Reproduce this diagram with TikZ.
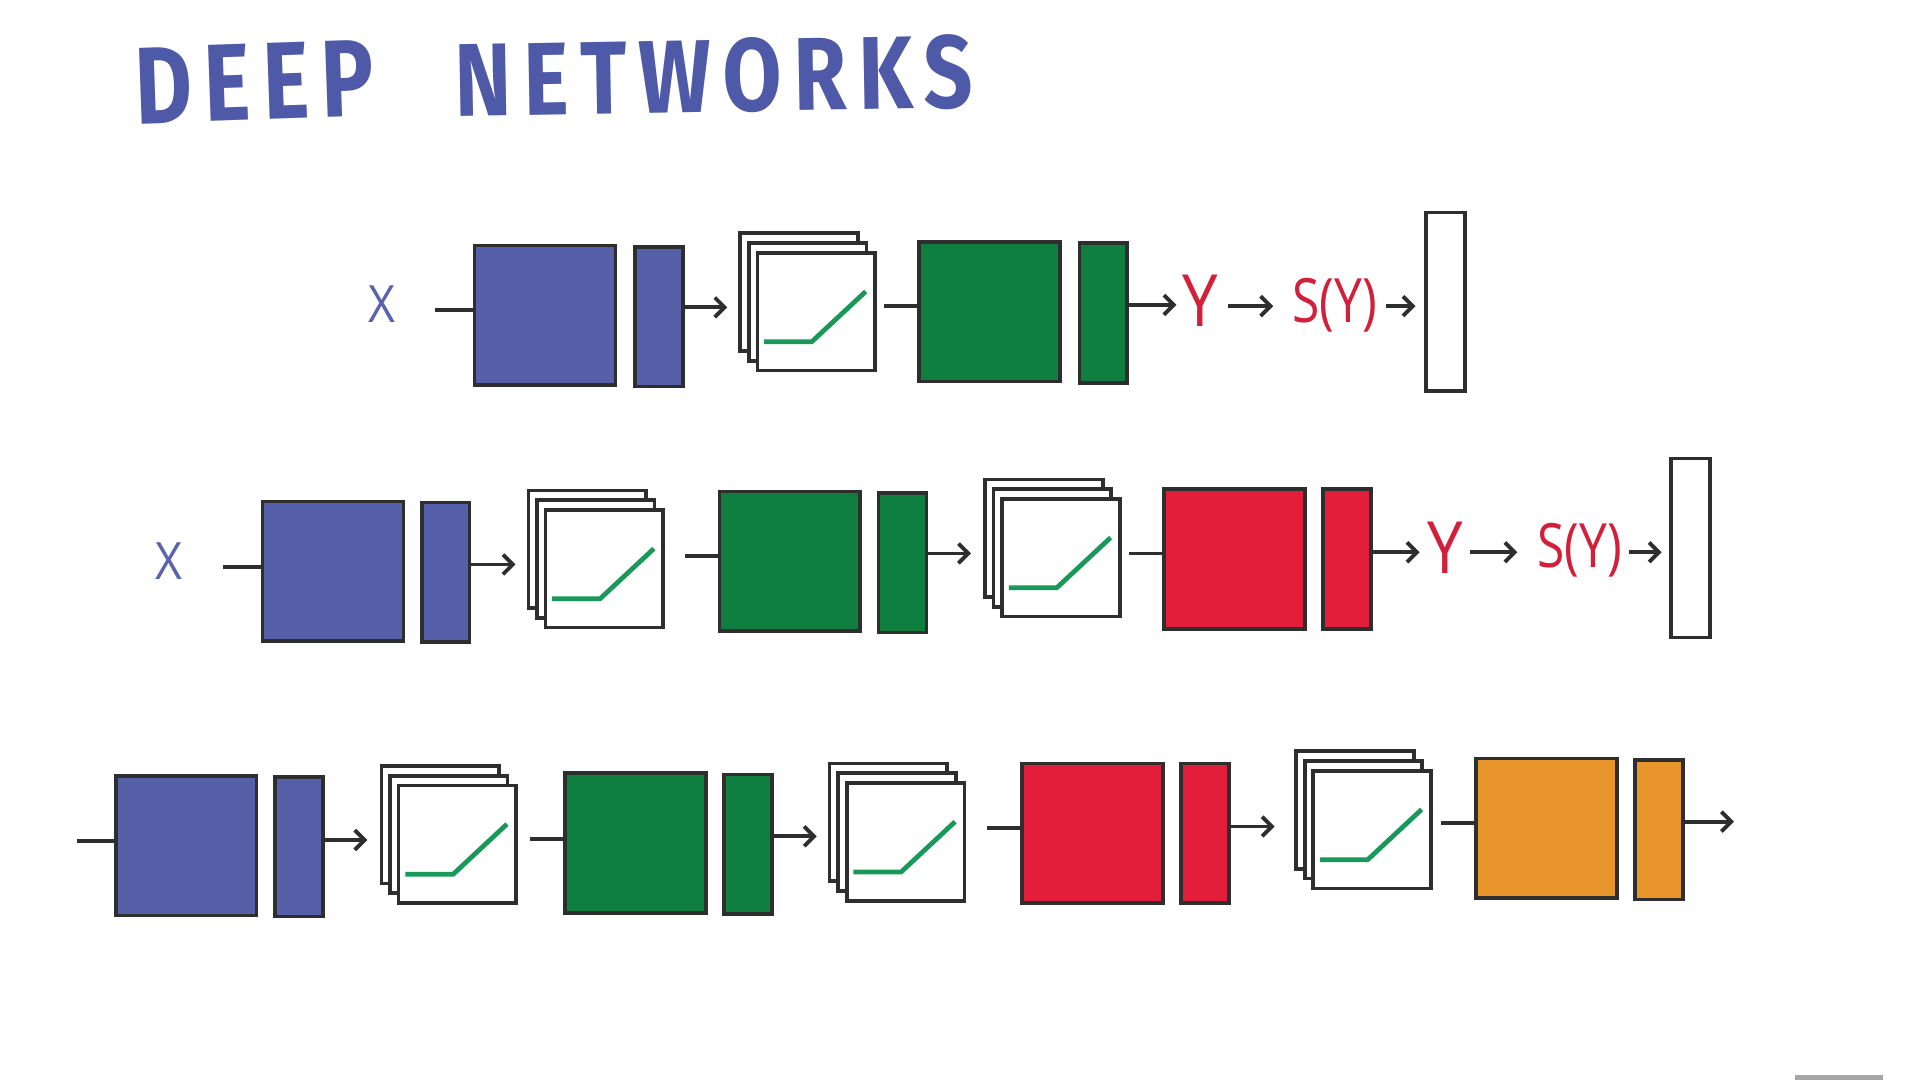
\documentclass[tikz,border=0pt]{standalone}
\usepackage{fontspec}
\usepackage{graphicx}
\usetikzlibrary{arrows.meta,calc}
\newfontfamily\handfont[LetterSpace=14]{Fira Sans}
\newfontfamily\thinfont{Open Sans}
\definecolor{bluef}{HTML}{5660A9}
\definecolor{greenf}{HTML}{0F7F3F}
\definecolor{redf}{HTML}{E31E3A}
\definecolor{orangef}{HTML}{E8952B}
\definecolor{edge}{HTML}{2E2E2E}
\definecolor{titleblue}{HTML}{4E5AA8}
\definecolor{redtxt}{HTML}{D41F3A}
\definecolor{xblue}{HTML}{5A63AE}
\definecolor{reluc}{HTML}{18995A}
\tikzset{
  blk/.style={draw=edge, line width=0.85pt, inner sep=0pt, anchor=north west},
  sq/.style={blk, minimum width=1.15cm, minimum height=1.14cm},
  bar/.style={blk, minimum width=0.39cm, minimum height=1.14cm},
  card/.style={blk, fill=white, minimum width=0.96cm, minimum height=0.96cm},
  outbox/.style={blk, fill=white, minimum width=0.32cm, minimum height=1.46cm},
  conn/.style={draw=edge, line width=0.9pt},
  arr/.style={conn, -{Straight Barb[length=0.08cm,width=0.16cm]}},
  relu/.style={draw=reluc, line width=1.1pt},
  lbl/.style={inner sep=0pt},
  xlbl/.style={lbl, text=xblue},
  ylbl/.style={lbl, text=redtxt}
}
\newcommand{\cardstack}[3]{%
  \node[card] (#1a) at (#2-14,#3-16) {};
  \node[card] (#1b) at (#2-7,#3-8) {};
  \node[card] (#1) at (#2,#3) {};
  \draw[relu] ($(#1.south west)+(7,-25)$) -- ++(39,0) -- ++(44,-41);
}
\newcommand{\xlab}{\resizebox{0.22cm}{0.3cm}{\thinfont X}}
\newcommand{\ylab}{\resizebox{0.29cm}{0.42cm}{\thinfont Y}}
\newcommand{\sylab}{\resizebox*{0.69cm}{0.44cm}{\thinfont S(Y)}}
\begin{document}
\begin{tikzpicture}[x=0.01cm, y=-0.01cm]
\useasboundingbox[fill=white] (0,0) rectangle (1568,882);

% title
\node[lbl, text=titleblue, rotate=2] (t1) at (208,67) {\resizebox{1.95cm}{0.62cm}{\handfont\bfseries DEEP}};
\node[lbl, text=titleblue, rotate=1] (t2) at (583,62) {\resizebox{4.23cm}{0.6cm}{\handfont\bfseries NETWORKS}};

% ---------- row 1 ----------
\node[xlbl] (x1) at (312,248) {\xlab};
\coordinate (s1) at (355,253);
\node[sq, fill=bluef] (A1) at (386,199) {};
\node[bar, fill=bluef] (B1) at (517,200) {};
\cardstack{C1}{617}{205}
\node[sq, fill=greenf] (D1) at (749,196) {};
\node[bar, fill=greenf] (E1) at (880,197) {};
\node[ylbl] (Y1) at (980,246) {\ylab};
\node[ylbl] (S1) at (1090,249) {\sylab};
\node[outbox] (O1) at (1163,172) {};

\draw[conn] (s1) -- (s1 -| A1.west);
\draw[arr, shorten >=0.09cm] (B1.east |- 0,251) -- (C1a.west |- 0,251);
\draw[conn, shorten <=0.06cm] (C1.east |- 0,250) -- (D1.west |- 0,250);
\draw[arr, shorten >=0.04cm] (E1.east |- 0,249) -- (Y1.west |- 0,249);
\draw[arr, shorten <=0.08cm, shorten >=0.15cm] (Y1.east |- 0,250) -- (S1.west |- 0,250);
\draw[arr, shorten <=0.07cm, shorten >=0.07cm] (S1.east |- 0,250) -- (O1.west |- 0,250);

% ---------- row 2 ----------
\node[xlbl] (x2) at (138,458) {\xlab};
\coordinate (s2) at (182,463);
\node[sq, fill=bluef] (A2) at (213,408) {};
\node[bar, fill=bluef] (B2) at (343,409) {};
\cardstack{C2}{444}{415}
\node[sq, fill=greenf] (D2) at (586,400) {};
\node[bar, fill=greenf] (E2) at (716,401) {};
\cardstack{C3}{817}{406}
\node[sq, fill=redf] (F2) at (949,398) {};
\node[bar, fill=redf] (G2) at (1079,398) {};
\node[ylbl] (Y2) at (1180,447) {\ylab};
\node[ylbl] (S2) at (1290,449) {\sylab};
\node[outbox] (O2) at (1363,373) {};

\draw[conn] (s2) -- (s2 -| A2.west);
\draw[arr, shorten >=0.09cm] (B2.east |- 0,461) -- (C2a.west |- 0,461);
\draw[conn, shorten <=0.16cm] (C2.east |- 0,454) -- (D2.west |- 0,454);
\draw[arr, shorten >=0.10cm] (E2.east |- 0,452) -- (C3a.west |- 0,452);
\draw[conn, shorten <=0.06cm] (C3.east |- 0,452) -- (F2.west |- 0,452);
\draw[arr, shorten >=0.055cm] (G2.east |- 0,451) -- (Y2.west |- 0,451);
\draw[arr, shorten <=0.055cm, shorten >=0.155cm] (Y2.east |- 0,451) -- (S2.west |- 0,451);
\draw[arr, shorten <=0.055cm, shorten >=0.06cm] (S2.east |- 0,451) -- (O2.west |- 0,451);

% ---------- row 3 ----------
\coordinate (s3) at (63,687);
\node[sq, fill=bluef] (A3) at (93,632) {};
\node[bar, fill=bluef] (B3) at (223,633) {};
\cardstack{C4}{324}{640}
\node[sq, fill=greenf] (D3) at (460,630) {};
\node[bar, fill=greenf] (E3) at (590,631) {};
\cardstack{C5}{690}{638}
\node[sq, fill=redf] (F3) at (833,622) {};
\node[bar, fill=redf] (G3) at (963,622) {};
\cardstack{C6}{1071}{628}
\node[sq, fill=orangef] (H3) at (1204,618) {};
\node[bar, fill=orangef] (I3) at (1334,619) {};
\coordinate (e3) at (1416,671);

\draw[conn] (s3) -- (s3 -| A3.west);
\draw[arr, shorten >=0.10cm] (B3.east |- 0,686) -- (C4a.west |- 0,686);
\draw[conn, shorten <=0.10cm] (C4.east |- 0,685) -- (D3.west |- 0,685);
\draw[arr, shorten >=0.09cm] (E3.east |- 0,683) -- (C5a.west |- 0,683);
\draw[conn, shorten <=0.17cm] (C5.east |- 0,676) -- (F3.west |- 0,676);
\draw[arr, shorten >=0.16cm] (G3.east |- 0,675) -- (C6a.west |- 0,675);
\draw[conn, shorten <=0.07cm] (C6.east |- 0,672) -- (H3.west |- 0,672);
\draw[arr] (I3.east |- e3) -- (e3);

% progress bar
\coordinate (pb1) at (1466,880);
\coordinate (pb2) at (1538,880);
\draw[draw=gray!70, line width=1.2pt] (pb1) -- (pb2);
\end{tikzpicture}
\end{document}
